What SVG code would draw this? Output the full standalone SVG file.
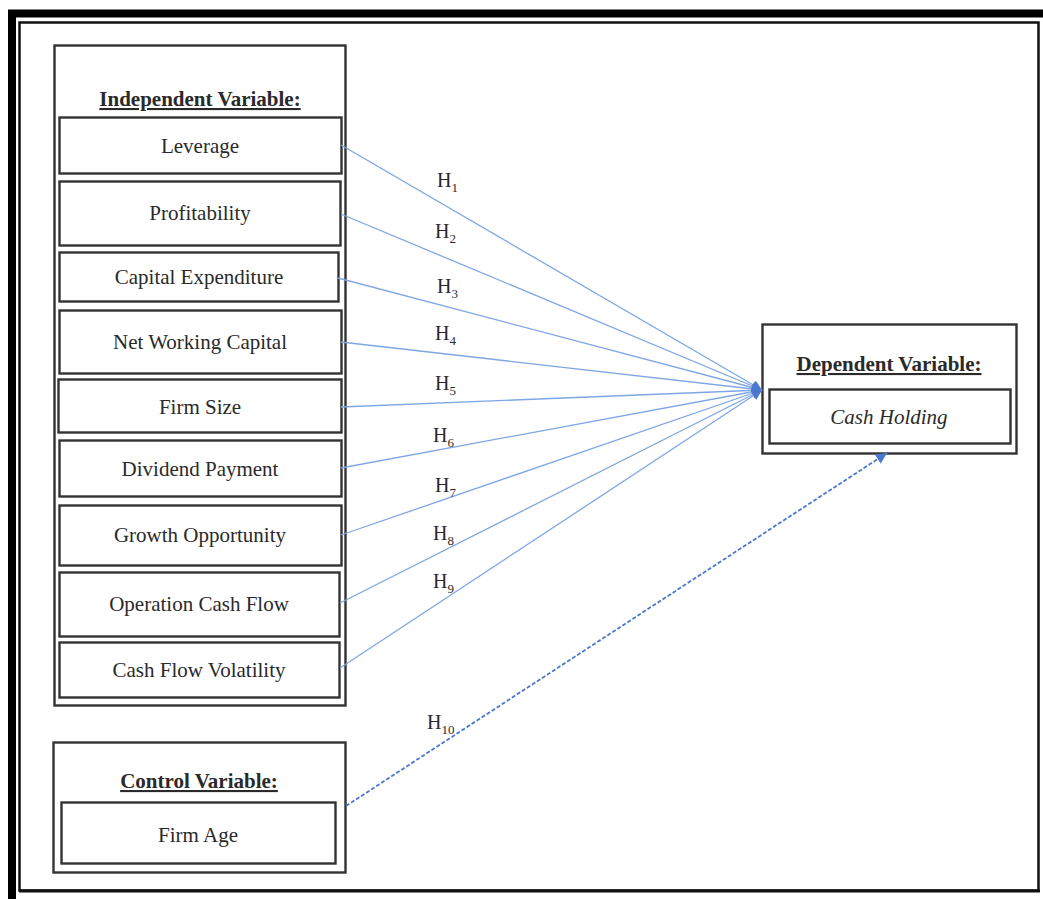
<svg xmlns="http://www.w3.org/2000/svg" width="1043" height="899" viewBox="0 0 1043 899">
<style>
.box{fill:#fff;stroke:#333;stroke-width:2.4}
.t{font-family:"Liberation Serif","Times New Roman",serif;font-size:21px;fill:#2a2a2a;text-anchor:middle}
.b{font-weight:bold;text-decoration:underline}
.h{font-family:"Liberation Serif","Times New Roman",serif;font-size:20px;fill:#2a2a2a}
.s{font-size:13px}
.ln{stroke:#7fa6e4;stroke-width:1.3;fill:none;marker-end:url(#ah)}
.dash{stroke:#4a78cf;stroke-width:1.8;stroke-dasharray:4 2;fill:none;marker-end:url(#ah2)}
</style>
<defs>
<marker id="ah" viewBox="0 0 10 10" refX="10" refY="5" markerWidth="11" markerHeight="10" markerUnits="userSpaceOnUse" orient="auto"><path d="M0,0 L10,5 L0,10 z" fill="#4a78cf"/></marker>
<marker id="ah2" viewBox="0 0 10 10" refX="10" refY="5" markerWidth="13" markerHeight="11" markerUnits="userSpaceOnUse" orient="auto"><path d="M0,0 L10,5 L0,10 z" fill="#4a78cf"/></marker>
</defs>
<rect width="1043" height="899" fill="#fff"/>
<g id="frame">
<path d="M12,899 L12,13.5 L1043,13.5" fill="none" stroke="#000" stroke-width="8"/>
<rect x="19.5" y="22.5" width="1019" height="868" fill="none" stroke="#111" stroke-width="2.5"/>
<line x1="19" y1="891" x2="1040" y2="891" stroke="#111" stroke-width="3"/>
</g>
<g id="independent">
<rect class="box" x="54.5" y="45.5" width="291" height="660"/>
<text class="t b" x="200" y="106">Independent Variable:</text>
</g>
<g id="leverage"><rect class="box" x="59.5" y="117.5" width="282" height="56"/><text class="t" x="200" y="153">Leverage</text></g>
<g id="profitability"><rect class="box" x="59.5" y="181.5" width="281" height="64"/><text class="t" x="200" y="220">Profitability</text></g>
<g id="capex"><rect class="box" x="59.5" y="252.5" width="279" height="49"/><text class="t" x="199" y="284">Capital Expenditure</text></g>
<g id="nwc"><rect class="box" x="59.5" y="310.5" width="282" height="63"/><text class="t" x="200" y="349">Net Working Capital</text></g>
<g id="firmsize"><rect class="box" x="58.5" y="379.5" width="283" height="53"/><text class="t" x="200" y="414">Firm Size</text></g>
<g id="dividend"><rect class="box" x="59.5" y="440.5" width="282" height="56"/><text class="t" x="200" y="476">Dividend Payment</text></g>
<g id="growth"><rect class="box" x="59.5" y="505.5" width="282" height="60"/><text class="t" x="200" y="542">Growth Opportunity</text></g>
<g id="ocf"><rect class="box" x="59.5" y="572.5" width="280" height="64"/><text class="t" x="199" y="611">Operation Cash Flow</text></g>
<g id="cfv"><rect class="box" x="59.5" y="642.5" width="280" height="55"/><text class="t" x="199" y="677">Cash Flow Volatility</text></g>
<g id="control">
<rect class="box" x="53.5" y="742.5" width="292" height="130"/>
<text class="t b" x="199" y="788">Control Variable:</text>
</g>
<g id="firmage"><rect class="box" x="61.5" y="802.5" width="274" height="61"/><text class="t" x="198" y="842">Firm Age</text></g>
<g id="dependent">
<rect class="box" x="762.5" y="324.5" width="254" height="129"/>
<text class="t b" x="889" y="371">Dependent Variable:</text>
</g>
<g id="cashholding"><rect class="box" x="769.5" y="389.5" width="241" height="54"/><text class="t" x="889" y="424" font-style="italic">Cash Holding</text></g>
<g id="connectors">
<line class="ln" x1="341" y1="145" x2="762" y2="390"/>
<line class="ln" x1="341" y1="214" x2="762" y2="390"/>
<line class="ln" x1="338" y1="278" x2="762" y2="390"/>
<line class="ln" x1="341" y1="342" x2="762" y2="390"/>
<line class="ln" x1="341" y1="407" x2="762" y2="390"/>
<line class="ln" x1="341" y1="468" x2="762" y2="390"/>
<line class="ln" x1="341" y1="535" x2="762" y2="390"/>
<line class="ln" x1="340" y1="603" x2="762" y2="390"/>
<line class="ln" x1="340" y1="668" x2="762" y2="390"/>
<line class="dash" x1="346" y1="806" x2="887" y2="453"/>
</g>
<g id="labels">
<text class="h" x="437" y="187">H<tspan class="s" dy="5">1</tspan></text>
<text class="h" x="435" y="238">H<tspan class="s" dy="5">2</tspan></text>
<text class="h" x="437" y="293">H<tspan class="s" dy="5">3</tspan></text>
<text class="h" x="435" y="340">H<tspan class="s" dy="5">4</tspan></text>
<text class="h" x="435" y="390">H<tspan class="s" dy="5">5</tspan></text>
<text class="h" x="433" y="442">H<tspan class="s" dy="5">6</tspan></text>
<text class="h" x="435" y="492">H<tspan class="s" dy="5">7</tspan></text>
<text class="h" x="433" y="540">H<tspan class="s" dy="5">8</tspan></text>
<text class="h" x="433" y="588">H<tspan class="s" dy="5">9</tspan></text>
<text class="h" x="427" y="729">H<tspan class="s" dy="5">10</tspan></text>
</g>
</svg>
